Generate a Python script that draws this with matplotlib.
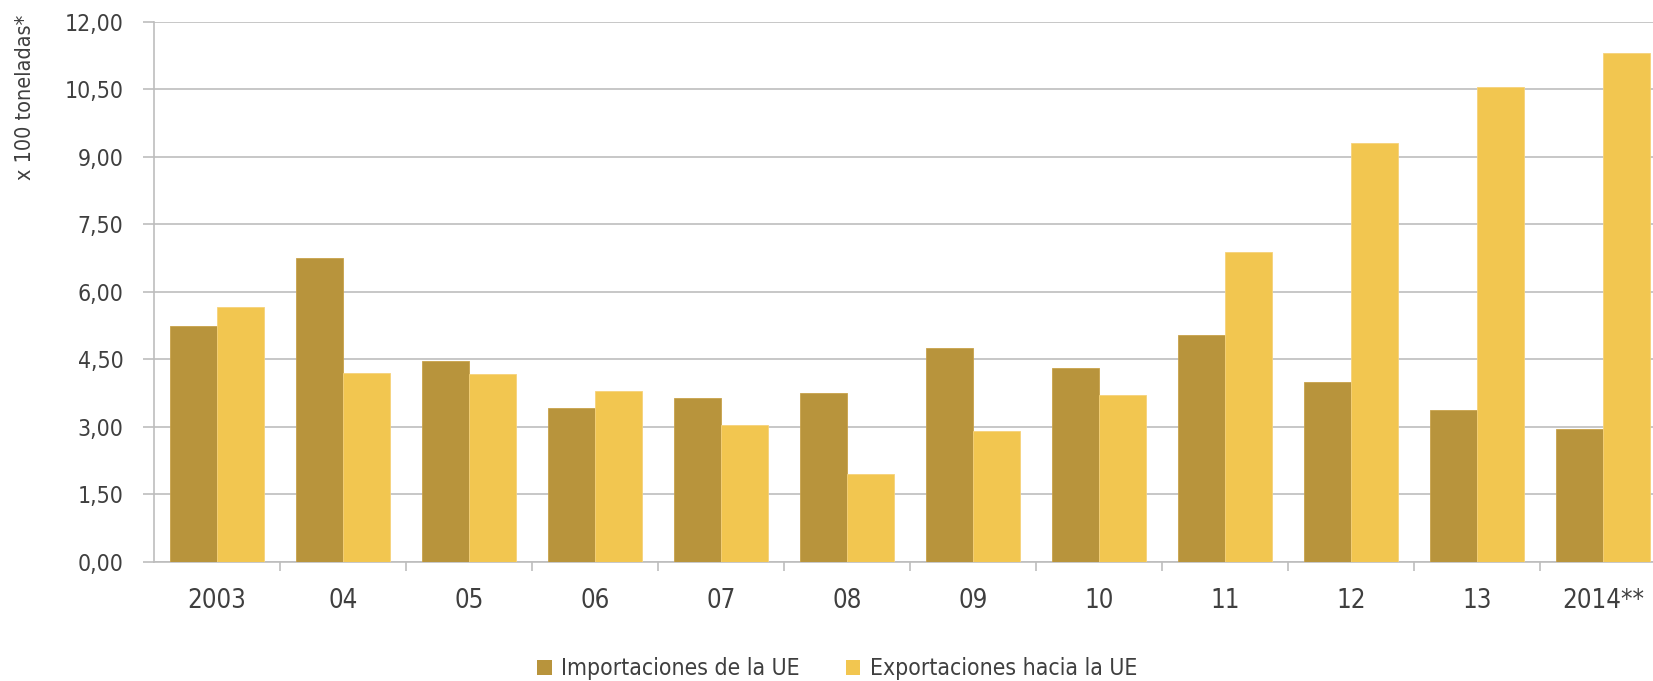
import numpy as np
import matplotlib.pyplot as plt
from matplotlib.patches import Patch

# datos (x 100 toneladas)
anios = ["2003", "04", "05", "06", "07", "08", "09", "10", "11", "12", "13", "2014**"]
importaciones = [5.23, 6.75, 4.47, 3.42, 3.65, 3.75, 4.75, 4.31, 5.04, 3.99, 3.37, 2.95]
exportaciones = [5.66, 4.19, 4.17, 3.79, 3.04, 1.94, 2.90, 3.70, 6.89, 9.30, 10.56, 11.32]
yticks = [0.0, 1.5, 3.0, 4.5, 6.0, 7.5, 9.0, 10.5, 12.0]

c_imp = "#B8943C"
c_exp = "#F2C650"
gris = "#BDBDBD"
texto = "#3F3F3F"

plt.rcParams["font.family"] = ["DejaVu Sans Condensed", "DejaVu Sans"]
plt.rcParams["font.stretch"] = "condensed"

W, H = 1653, 681
fig = plt.figure(figsize=(W / 100, H / 100), dpi=100)
ax = fig.add_axes([154 / W, (H - 561.7) / H, (1666 - 154) / W, (561.7 - 22) / H])

x = np.arange(len(anios))
bw = 0.37
ax.bar(x - bw / 2, importaciones, bw, color=c_imp, edgecolor="#C9A24A", linewidth=0.6, zorder=3)
ax.bar(x + bw / 2, exportaciones, bw, color=c_exp, edgecolor="#F6D27A", linewidth=0.6, zorder=3)

ax.set_xlim(-0.5, len(anios) - 0.5)
ax.set_ylim(0, 12)
ax.set_yticks(yticks)
ax.set_yticklabels([f"{v:.2f}".replace(".", ",") for v in yticks])
ax.yaxis.grid(True, color=gris, linewidth=1.2, zorder=0)
ax.tick_params(axis="y", length=8, color=gris, width=1.2, labelsize=16.5, labelcolor=texto, pad=14)

# ticks entre categorias, etiquetas centradas
ax.set_xticks(x[1:] - 0.5)
ax.set_xticklabels([])
ax.set_xticks(x, minor=True)
ax.set_xticklabels(anios, minor=True)
ax.tick_params(axis="x", which="major", length=6.5, color=gris, width=1.2, direction="out")
ax.tick_params(axis="x", which="minor", length=0, labelsize=18.5, labelcolor=texto, pad=19)

for s in ["top", "right"]:
    ax.spines[s].set_visible(False)
for s in ["left", "bottom"]:
    ax.spines[s].set_color(gris)
    ax.spines[s].set_linewidth(1.2)

fig.text(25 / W, 1 - 97 / H, "x 100 toneladas*", rotation=90, ha="center", va="center",
         fontsize=15.5, color=texto)

handles = [Patch(facecolor=c_imp, label="Importaciones de la UE"),
           Patch(facecolor=c_exp, label="Exportaciones hacia la UE")]
fig.legend(handles=handles, loc="center", bbox_to_anchor=(837 / W, 1 - 669 / H), ncol=2,
           frameon=False, fontsize=16.5, labelcolor=texto, handlelength=0.65, handleheight=0.65,
           handletextpad=0.4, columnspacing=2.0)

fig.savefig("out.png", dpi=100)
